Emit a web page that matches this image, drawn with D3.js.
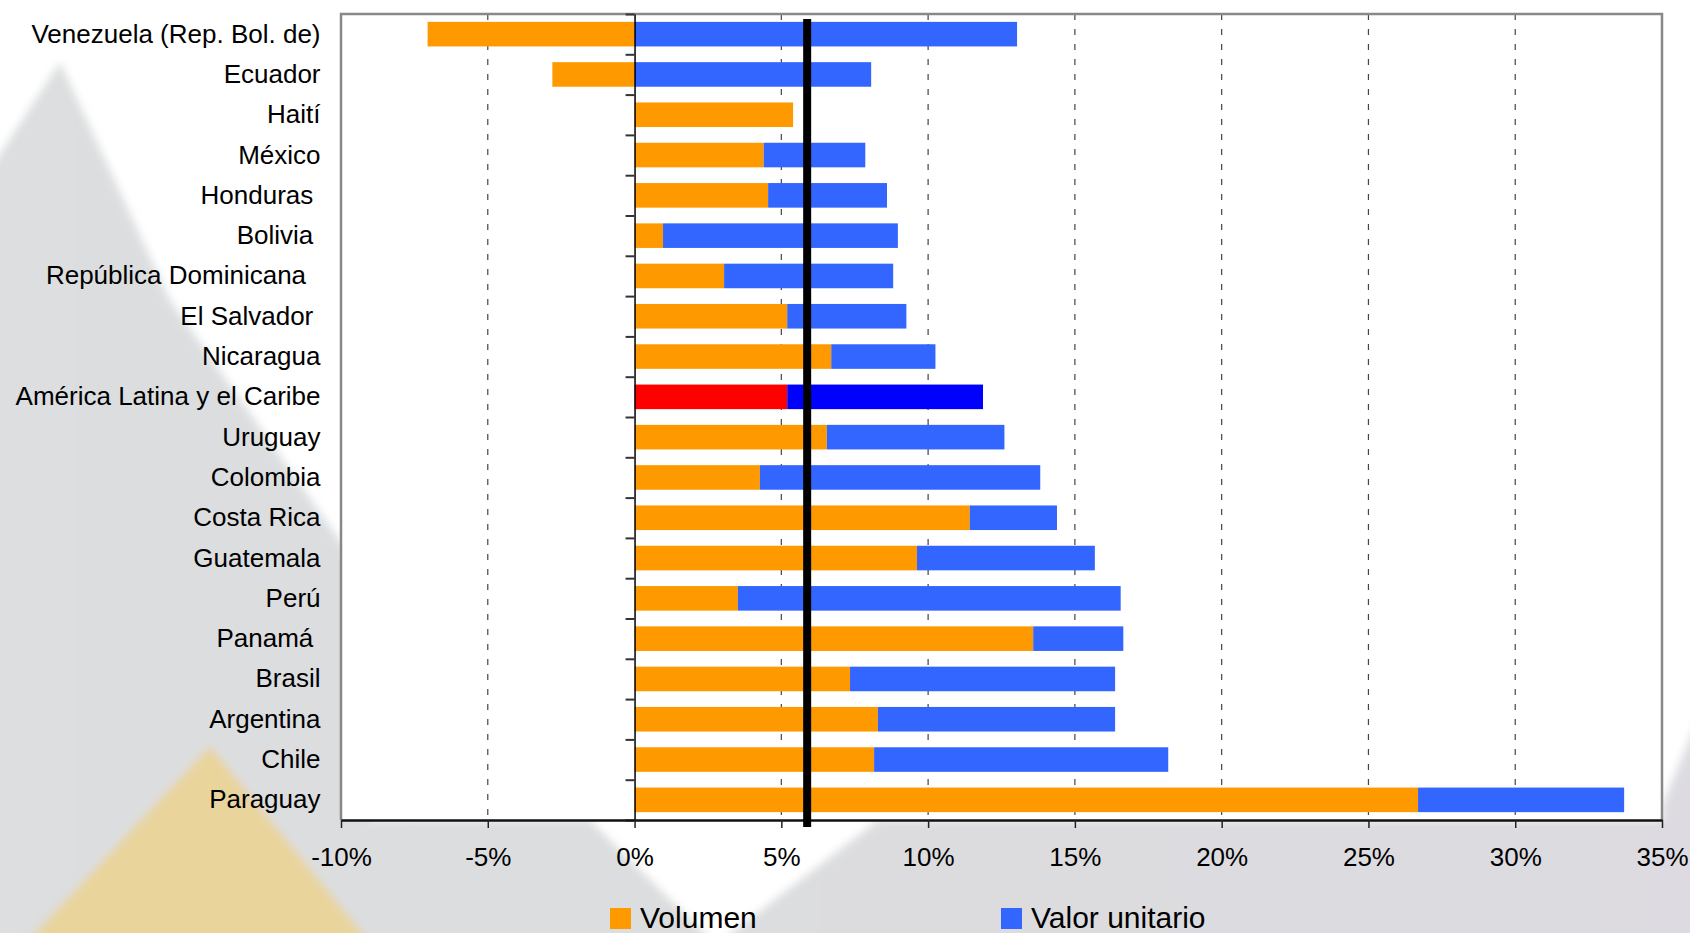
<!DOCTYPE html>
<html>
<head>
<meta charset="utf-8">
<script src="https://cdn.jsdelivr.net/npm/d3@7"></script>
<style>
  html, body { margin: 0; padding: 0; background: #ffffff; }
  svg { display: block; }
  text { font-family: "Liberation Sans", Arial, Helvetica, sans-serif; fill: #000; }
</style>
</head>
<body>
<svg id="chart" width="1690" height="933"></svg>
<script>
// ---- Data ----
const categories = [
  "Venezuela (Rep. Bol. de)", "Ecuador", "Haití", "México", "Honduras ",
  "Bolivia ", "República Dominicana  ", "El Salvador ", "Nicaragua",
  "América Latina y el Caribe", "Uruguay", "Colombia", "Costa Rica",
  "Guatemala", "Perú", "Panamá ", "Brasil", "Argentina", "Chile", "Paraguay"
];
const volumen = [
  -7.05, -2.8, 5.4, 4.4, 4.55, 0.97, 3.05, 5.2, 6.7, 5.2,
  6.55, 4.27, 11.42, 9.62, 3.52, 13.58, 7.34, 8.29, 8.16, 26.69
];
const valorUnitario = [
  13.03, 8.06, 0, 3.46, 4.05, 8.0, 5.76, 4.06, 3.55, 6.67,
  6.05, 9.55, 2.97, 6.06, 13.04, 3.07, 9.03, 8.08, 10.02, 7.02
];
const seriesNames = ["Volumen", "Valor unitario"];
const seriesColors = ["#FF9900", "#3366FF"];
const highlightCategory = "América Latina y el Caribe";
const highlightColors = ["#FF0000", "#0000FF"];
const xTicks = [-10, -5, 0, 5, 10, 15, 20, 25, 30, 35];
const gridTicks = [-5, 5, 10, 15, 20, 25, 30];
const averageValue = 5.88;

// ---- Layout ----
const svg = d3.select("#chart");
const W = 1690, H = 933;
const plot = { left: 341, right: 1662, top: 14, bottom: 820 };

// ---- Background decoration ----
const defs = svg.append("defs");
defs.append("filter").attr("id", "soft")
  .append("feGaussianBlur").attr("stdDeviation", 4);
const grad = defs.append("linearGradient").attr("id", "bgGrad")
  .attr("x1", "0").attr("x2", "1").attr("y1", "0").attr("y2", "0");
grad.append("stop").attr("offset", "0").attr("stop-color", "#dcdedf");
grad.append("stop").attr("offset", "0.45").attr("stop-color", "#dcdddf");
grad.append("stop").attr("offset", "1").attr("stop-color", "#dddbe1");

svg.append("rect").attr("width", W).attr("height", H).attr("fill", "#ffffff");
const bg = svg.append("g").attr("filter", "url(#soft)");
const line = d3.line();
bg.append("path")
  .attr("d", line([[-20, 185], [60, 62], [170, 300], [350, 555], [370, 820], [590, 820],
                   [716, 945], [878, 820], [1662, 820], [1662, 805],
                   [1710, 690], [1710, 960], [-20, 960]]) + "Z")
  .attr("fill", "url(#bgGrad)");
bg.append("path")
  .attr("d", line([[210, 746], [372, 945], [24, 945]]) + "Z")
  .attr("fill", "#e9d49c");

// ---- Scales ----
const x = d3.scaleLinear().domain([-10, 35]).range([plot.left, plot.right]);
const y = d3.scaleBand().domain(categories)
  .range([plot.top, plot.bottom]).paddingInner(0.39).paddingOuter(0.195);

// plot area
svg.append("rect")
  .attr("x", plot.left).attr("y", plot.top)
  .attr("width", plot.right - plot.left).attr("height", plot.bottom - plot.top)
  .attr("fill", "#ffffff");

// gridlines
svg.append("g").selectAll("line").data(gridTicks).join("line")
  .attr("x1", d => x(d)).attr("x2", d => x(d))
  .attr("y1", plot.top).attr("y2", plot.bottom)
  .attr("stroke", "#444").attr("stroke-width", 1.2)
  .attr("stroke-dasharray", "6,9");

// ---- Stacked bars ----
const rows = categories.map((c, i) => ({
  cat: c, "Volumen": volumen[i], "Valor unitario": valorUnitario[i]
}));
const stack = d3.stack().keys(seriesNames).offset(d3.stackOffsetDiverging);
const stacked = stack(rows);

stacked.forEach((layer, si) => {
  svg.append("g").selectAll("rect").data(layer).join("rect")
    .attr("x", d => x(Math.min(d[0], d[1])))
    .attr("width", d => Math.abs(x(d[1]) - x(d[0])))
    .attr("y", d => y(d.data.cat))
    .attr("height", y.bandwidth())
    .attr("fill", d => d.data.cat === highlightCategory ? highlightColors[si] : seriesColors[si]);
});

// ---- Frame ----
svg.append("path")
  .attr("d", line([[plot.left, plot.bottom], [plot.left, plot.top],
                   [plot.right, plot.top], [plot.right, plot.bottom]]))
  .attr("fill", "none").attr("stroke", "#888").attr("stroke-width", 2.5);

// ---- Y axis at 0% ----
const yIdx = d3.scaleLinear().domain([0, categories.length]).range([plot.top, plot.bottom]);
const yAxisG = svg.append("g").attr("transform", `translate(${x(0)},0)`)
  .call(d3.axisLeft(yIdx).tickValues(d3.range(categories.length + 1))
    .tickFormat("").tickSize(9).tickSizeOuter(0));
yAxisG.select(".domain").attr("stroke", "#000").attr("stroke-width", 1.5);
yAxisG.selectAll(".tick line").attr("stroke", "#333").attr("stroke-width", 2);

// category labels
svg.append("g").selectAll("text").data(categories).join("text")
  .attr("x", 320.5)
  .attr("y", d => y(d) + y.bandwidth() / 2 + 8.5)
  .attr("text-anchor", "end")
  .attr("xml:space", "preserve")
  .style("white-space", "pre")
  .attr("font-size", 26)
  .text(d => d);

// ---- X axis ----
const xAxisG = svg.append("g").attr("transform", `translate(0,${plot.bottom})`)
  .call(d3.axisBottom(x).tickValues(xTicks).tickFormat(d => d + "%")
    .tickSize(8).tickSizeOuter(0));
xAxisG.select(".domain").attr("stroke", "#111").attr("stroke-width", 2.5);
xAxisG.selectAll(".tick line").attr("stroke", "#222").attr("stroke-width", 1.5);
xAxisG.selectAll(".tick text")
  .attr("y", 28).attr("font-size", 26)
  .attr("font-family", "'Liberation Sans', Arial, sans-serif")
  .attr("fill", "#000");

// ---- Average line ----
svg.append("line")
  .attr("x1", x(averageValue)).attr("x2", x(averageValue))
  .attr("y1", 19).attr("y2", 827)
  .attr("stroke", "#000").attr("stroke-width", 8);

// ---- Legend ----
const legendPos = [610, 1001];
const legend = svg.append("g").selectAll("g").data(seriesNames).join("g")
  .attr("transform", (d, i) => `translate(${legendPos[i]},908)`);
legend.append("rect").attr("width", 21).attr("height", 21)
  .attr("fill", (d, i) => seriesColors[i]);
legend.append("text").attr("x", 30).attr("y", 20)
  .attr("font-size", 30).text(d => d);
</script>
</body>
</html>
